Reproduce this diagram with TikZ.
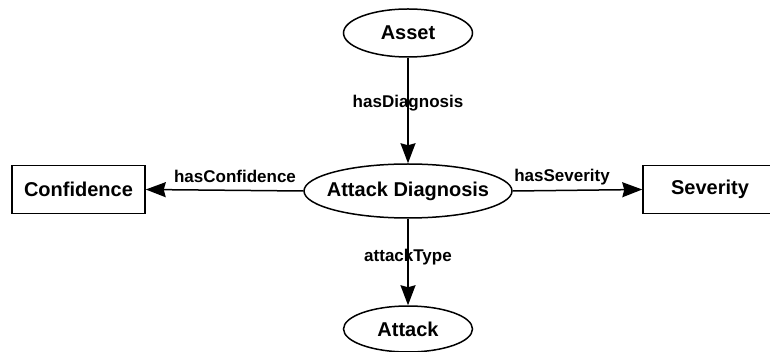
\documentclass[tikz,border=0pt]{standalone}
\usepackage{fontspec}
\setmainfont{Liberation Sans}
\usetikzlibrary{shapes.geometric,arrows.meta}
\tikzset{
  concept/.style={draw, line width=1.5pt, ellipse, inner sep=0pt,
    font=\fontsize{20}{24}\selectfont\bfseries},
  valuebox/.style={draw, line width=1.5pt, rectangle, inner sep=0pt,
    minimum width=133pt, minimum height=48pt,
    font=\fontsize{20}{24}\selectfont\bfseries},
  relation/.style={line width=1.5pt,
    -{Stealth[length=20pt, width=15pt, inset=2pt]}},
  rellabel/.style={anchor=base, inner sep=0pt,
    font=\fontsize{17}{20}\selectfont\bfseries}
}
\begin{document}
\begin{tikzpicture}[x=1pt, y=-1pt]
  \useasboundingbox (0,0) rectangle (770,352);

  % classes
  \node[concept, minimum width=129pt, minimum height=48pt] (asset) at (408,33) {Asset};
  \node[concept, inner xsep=-9pt, minimum width=208pt, minimum height=54pt] (diag) at (408,191) {Attack Diagnosis};
  \node[concept, minimum width=129pt, minimum height=46pt] (attack) at (408,329) {Attack};
  \node[valuebox] (conf) at (78.5,189.5) {Confidence};
  \node[valuebox, minimum width=134pt] (sev) at (710,189.5) {Severity};

  % properties
  \draw[relation] (asset.south) -- (diag.north);
  \draw[relation] (diag.west) -- (conf.east);
  \draw[relation] (diag.east) -- (sev.west);
  \draw[relation] (diag.south) -- (attack.north);

  % property names
  \node[rellabel] (lDiag) at (408,108) {hasDiagnosis};
  \node[rellabel] (lConf) at (235,183) {hasConfidence};
  \node[rellabel] (lSev) at (562,182) {hasSeverity};
  \node[rellabel] (lType) at (408,262) {attackType};
\end{tikzpicture}
\end{document}
